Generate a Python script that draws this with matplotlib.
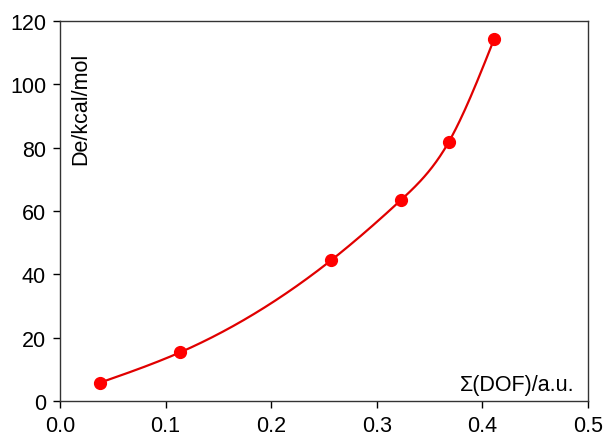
import matplotlib
matplotlib.use("Agg")
import matplotlib.pyplot as plt
import numpy as np

plt.rcParams['font.family'] = ['Liberation Sans', 'DejaVu Sans']

# measured points
dof = [0.038, 0.114, 0.257, 0.323, 0.368, 0.411]
de = [5.8, 15.4, 44.5, 63.5, 81.7, 114.2]


def natural_spline(x, y, xs):
    x = np.asarray(x, float)
    y = np.asarray(y, float)
    n = len(x)
    h = np.diff(x)
    A = np.zeros((n, n))
    b = np.zeros(n)
    A[0, 0] = A[-1, -1] = 1.0
    for i in range(1, n - 1):
        A[i, i - 1] = h[i - 1]
        A[i, i] = 2 * (h[i - 1] + h[i])
        A[i, i + 1] = h[i]
        b[i] = 3 * ((y[i + 1] - y[i]) / h[i] - (y[i] - y[i - 1]) / h[i - 1])
    c = np.linalg.solve(A, b)
    idx = np.clip(np.searchsorted(x, xs) - 1, 0, n - 2)
    dx = xs - x[idx]
    bb = (y[idx + 1] - y[idx]) / h[idx] - h[idx] * (2 * c[idx] + c[idx + 1]) / 3
    dd = (c[idx + 1] - c[idx]) / (3 * h[idx])
    return y[idx] + bb * dx + c[idx] * dx ** 2 + dd * dx ** 3


fig = plt.figure(figsize=(6.03, 4.39), dpi=100)
ax = fig.add_axes([60 / 603, 37 / 439, 528 / 603, 380 / 439])

xs = np.linspace(dof[0], dof[-1], 300)
ax.plot(xs, natural_spline(dof, de, xs), color='#e00000', lw=1.6)
ax.plot(dof, de, 'o', color='#ff0000', ms=8.5)

ax.set_xlim(0, 0.5)
ax.set_ylim(0, 120)
ax.set_xticks(np.arange(0, 0.51, 0.1))
ax.set_xticklabels([f"{v:.1f}" for v in np.arange(0, 0.51, 0.1)])
ax.set_yticks(range(0, 121, 20))
ax.tick_params(labelsize=15.5, direction='out', length=5, width=1, pad=5)
for s in ax.spines.values():
    s.set_linewidth(1.0)
    s.set_color('#333333')

ax.text(0.04, 0.92, 'De/kcal/mol', transform=ax.transAxes, rotation=90,
        ha='center', va='top', fontsize=15.5)
ax.text(0.975, 0.015, 'Σ(DOF)/a.u.', transform=ax.transAxes,
        ha='right', va='bottom', fontsize=15.5)

fig.savefig('out.png', dpi=100)
